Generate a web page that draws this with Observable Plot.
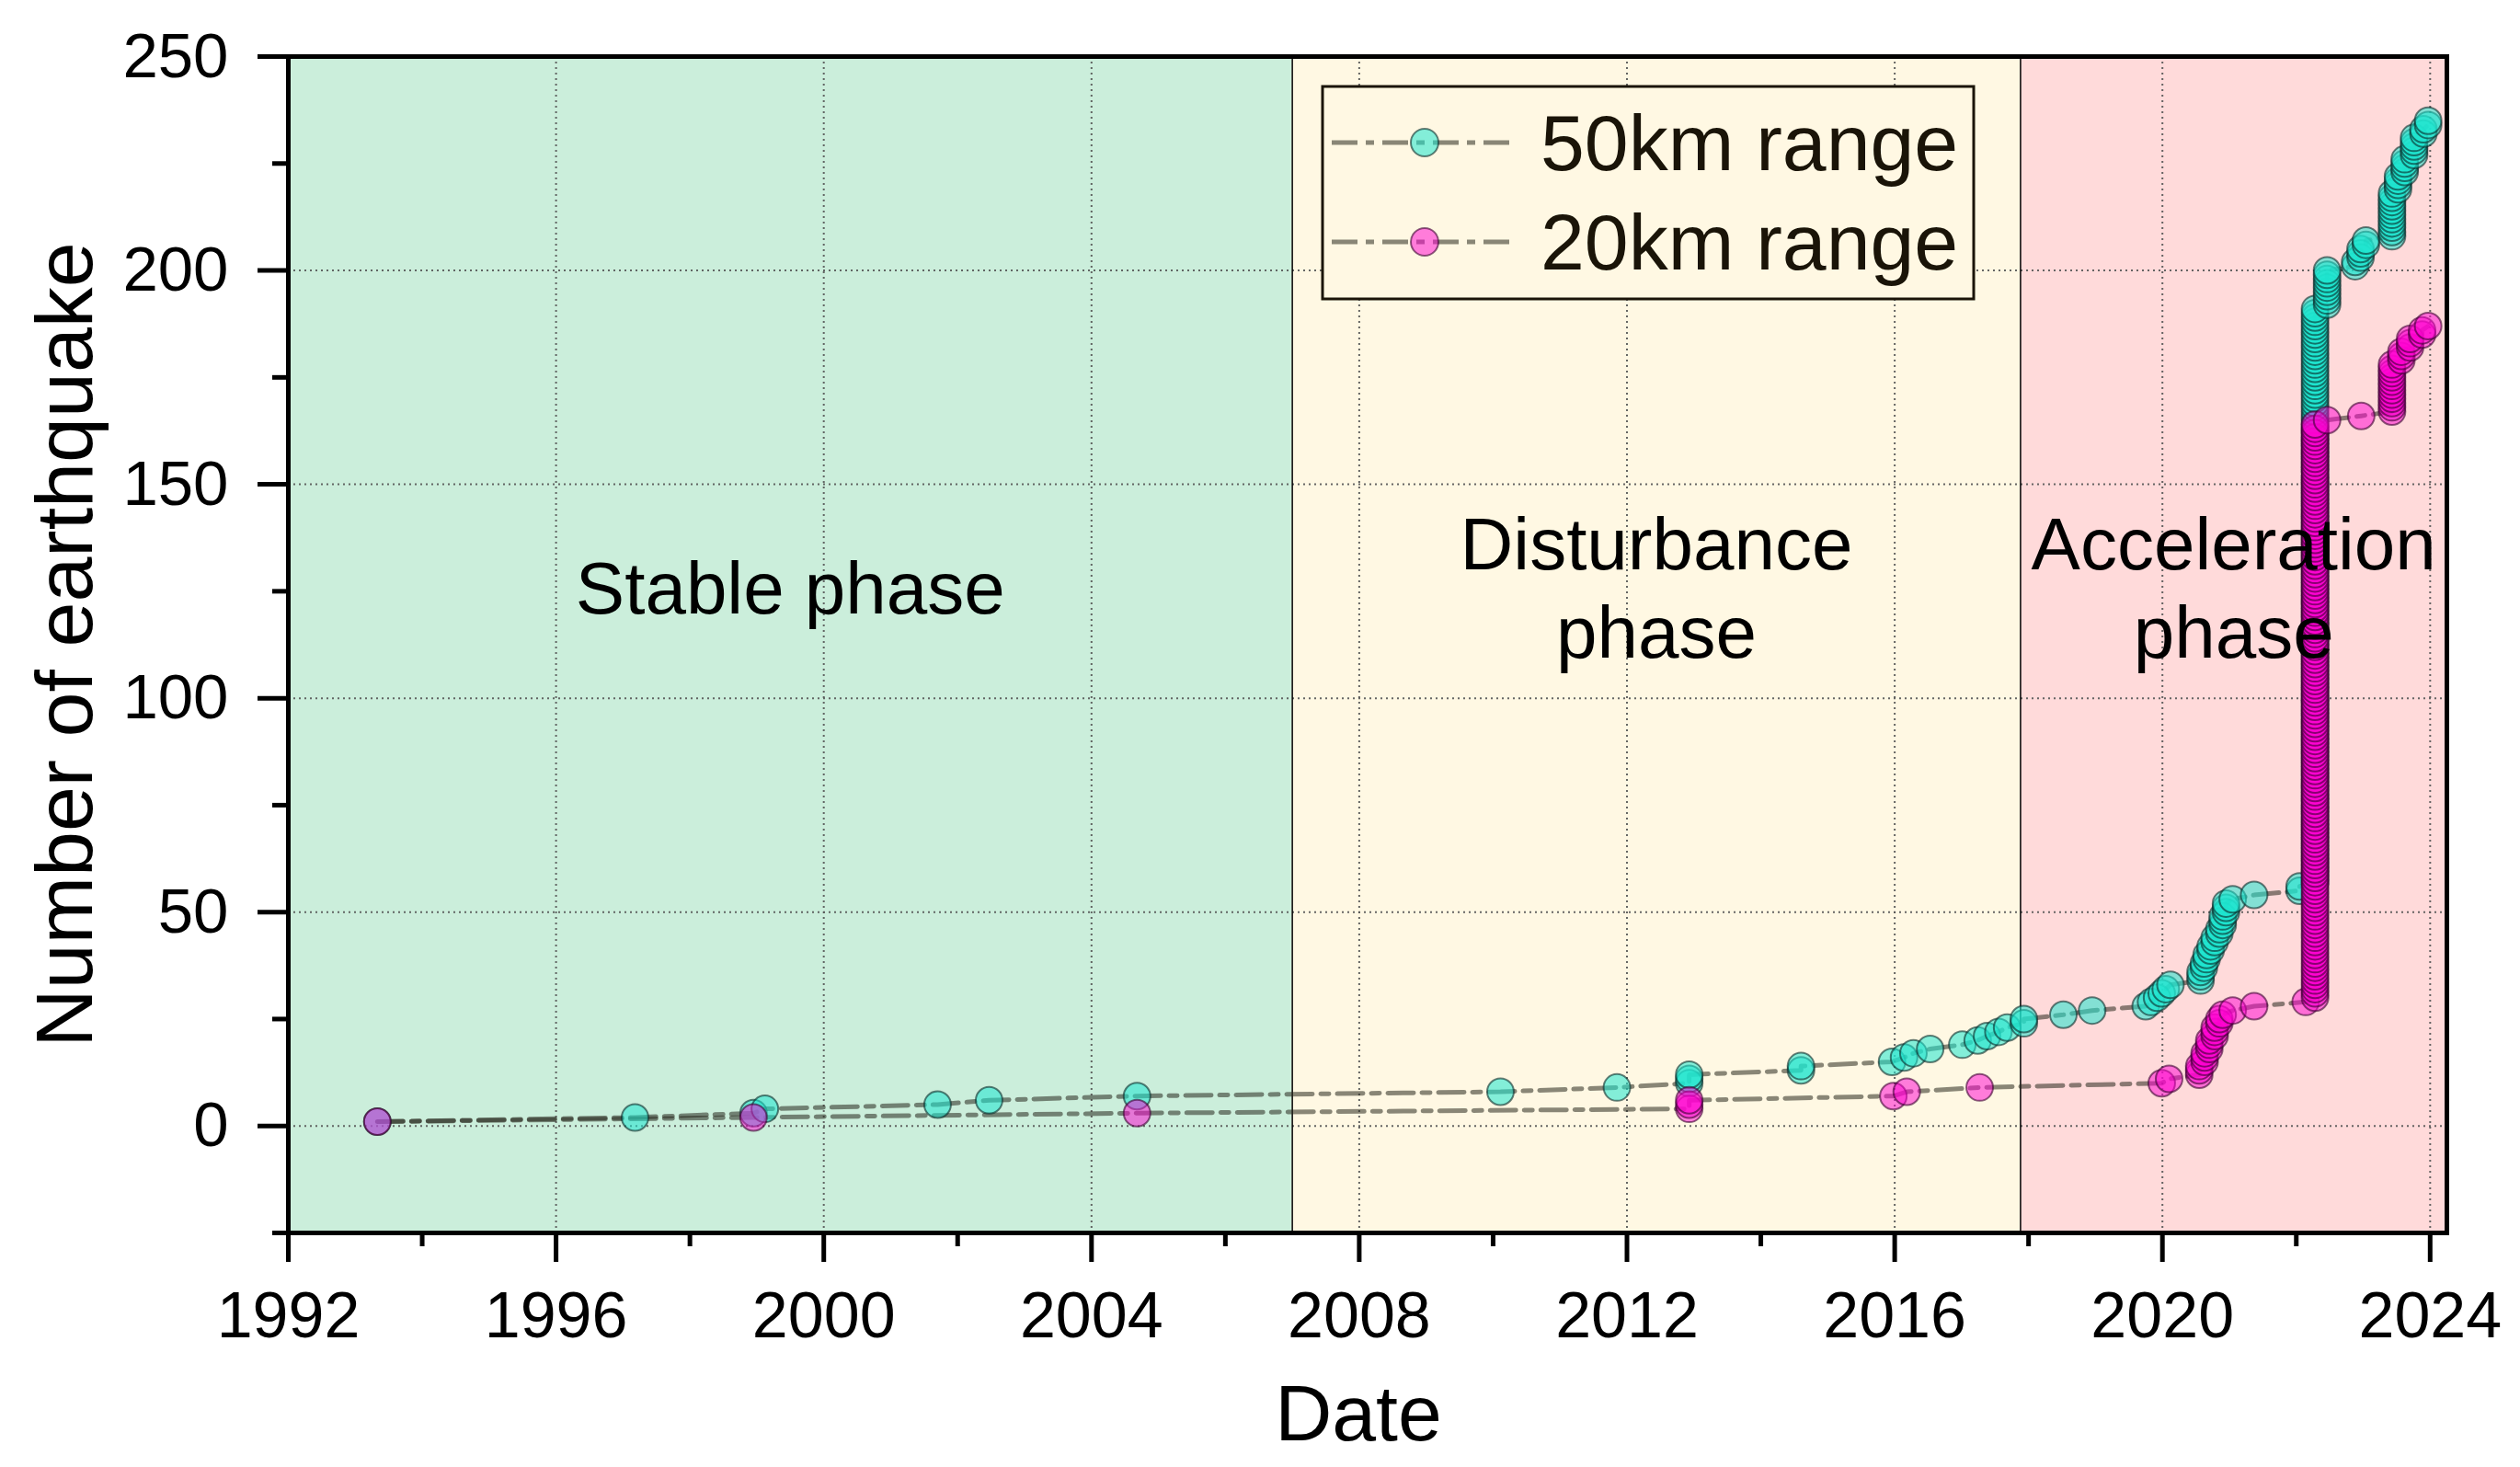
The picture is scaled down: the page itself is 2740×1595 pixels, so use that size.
<!DOCTYPE html>
<html>
<head>
<meta charset="utf-8">
<script src="https://cdn.jsdelivr.net/npm/d3@7"></script>
<script src="https://cdn.jsdelivr.net/npm/@observablehq/plot@0.6"></script>
<style>
  body { margin: 0; background: #ffffff; }
  #chart svg { display: block; }
</style>
</head>
<body>
<div id="chart"></div>
<script>
// ---- Data ----
// 50 km range: event dates (decimal years) and number of earthquakes on each date
const dates50 = [1993.33, 1997.18, 1998.95, 1999.12, 2001.70, 2002.47, 2004.68, 2010.11, 2011.85, 2012.93,
  2014.60, 2015.96, 2016.14, 2016.28, 2016.53, 2017.01, 2017.24, 2017.38, 2017.55, 2017.68,
  2017.93, 2018.52, 2018.95, 2019.75, 2019.83, 2019.92, 2019.99, 2020.05, 2020.12, 2020.57,
  2020.62, 2020.66, 2020.72, 2020.78, 2020.85, 2020.90, 2020.95, 2021.05, 2021.37, 2022.05,
  2022.28, 2022.46, 2022.88, 2022.96, 2023.04, 2023.43, 2023.52, 2023.62, 2023.76, 2023.90, 2023.97];
const events50 = [1, 1, 1, 1, 1, 1, 1, 1, 1, 3,
  2, 1, 1, 1, 1, 1, 1, 1, 1, 1,
  2, 1, 1, 1, 1, 1, 1, 1, 1, 3,
  2, 2, 2, 2, 2, 3, 3, 1, 1, 2,
  135, 9, 2, 3, 2, 11, 4, 4, 5, 2, 2];

// 20 km range
const dates20 = [1993.33, 1998.95, 2004.68, 2012.93, 2015.98, 2016.18, 2017.27, 2019.99, 2020.10, 2020.55,
  2020.63, 2020.70, 2020.78, 2020.85, 2020.90, 2021.05, 2021.37, 2022.14, 2022.28, 2022.46,
  2022.97, 2023.43, 2023.57, 2023.70, 2023.88, 2023.97];
const events20 = [1, 1, 1, 3, 1, 1, 1, 1, 1, 3,
  3, 3, 3, 2, 1, 1, 1, 1, 135, 1,
  1, 12, 3, 3, 2, 1];

const seriesNames = ["50km range", "20km range"];

// Phases
const phaseNames = ["Stable phase", "Disturbance\nphase", "Acceleration\nphase"];
const phaseStart = [1992, 2007.0, 2017.88];
const phaseEnd = [2007.0, 2017.88, 2024.25];
const phaseLabelY = 126.5;

// Axes
const xDomain = [1992, 2024.25];
const yDomain = [-25, 250];
const xTicks = [1992, 1996, 2000, 2004, 2008, 2012, 2016, 2020, 2024];
const xMinorTicks = [1994, 1998, 2002, 2006, 2010, 2014, 2018, 2022];
const yTicks = [0, 50, 100, 150, 200, 250];
const yMinorTicks = [-25, 25, 75, 125, 175, 225];
const xLabel = "Date";
const yLabel = "Number of earthquake";

// ---- Styles ----
const phaseColors = ["#cbeedb", "#fff8e3", "#ffdada"];
const fill50 = "#1ee6cf";
const fill20 = "#ff00d2";
const lineColor = "#28281e";
const dash = "28,9,9,9";
const font = "'Liberation Sans', Arial, Helvetica, sans-serif";
const dotR = 14.5;

// cumulative count per event
function expand(dates, events, series) {
  const rows = [];
  let total = 0;
  dates.forEach((d, i) => {
    for (let k = 0; k < events[i]; k++) {
      total += 1;
      rows.push({date: d, count: total, series});
    }
  });
  return rows;
}
const rows50 = expand(dates50, events50, seriesNames[0]);
const rows20 = expand(dates20, events20, seriesNames[1]);
const phases = phaseNames.map((name, i) => ({name, start: phaseStart[i], end: phaseEnd[i], color: phaseColors[i]}));

const W = 2740, H = 1595;
const mL = 313, mR = 80, mT = 61, mB = 255;

const plot = Plot.plot({
  width: W,
  height: H,
  marginLeft: mL,
  marginRight: mR,
  marginTop: mT,
  marginBottom: mB,
  style: {fontFamily: font, background: "#ffffff", color: "#000"},
  x: {type: "linear", domain: xDomain},
  y: {domain: yDomain},
  color: {type: "identity"},
  marks: [
    Plot.rect(phases, {x1: "start", x2: "end", y1: yDomain[0], y2: yDomain[1], fill: "color"}),
    Plot.gridX(xTicks.filter(t => t > xDomain[0]), {stroke: "#555", strokeOpacity: 0.9, strokeWidth: 2, strokeDasharray: "2,4"}),
    Plot.gridY(yTicks.filter(t => t < yDomain[1]), {stroke: "#555", strokeOpacity: 0.9, strokeWidth: 2, strokeDasharray: "2,4"}),
    Plot.ruleX(phaseStart.slice(1), {stroke: "#000", strokeWidth: 1.5}),
    Plot.line(rows50, {x: "date", y: "count", stroke: lineColor, strokeOpacity: 0.55, strokeWidth: 5, strokeDasharray: dash}),
    Plot.line(rows20, {x: "date", y: "count", stroke: lineColor, strokeOpacity: 0.55, strokeWidth: 5, strokeDasharray: dash}),
    Plot.dot(rows50, {x: "date", y: "count", r: dotR, fill: fill50, fillOpacity: 0.55, stroke: "#0a2a28", strokeOpacity: 0.6, strokeWidth: 2}),
    Plot.dot(rows20, {x: "date", y: "count", r: dotR, fill: fill20, fillOpacity: 0.5, stroke: "#3a0030", strokeOpacity: 0.6, strokeWidth: 2}),
    Plot.text(phases, {x: d => (d.start + d.end) / 2, y: phaseLabelY, text: "name", fontSize: 80, lineHeight: 1.2, lineAnchor: "middle", textAnchor: "middle", fill: "#000"}),
    Plot.frame({stroke: "#000", strokeWidth: 5}),
    Plot.axisX(xTicks, {anchor: "bottom", tickSize: 32, tickPadding: 32, tickFormat: d => String(d), fontSize: 70, strokeWidth: 5, label: null}),
    Plot.axisX(xMinorTicks, {anchor: "bottom", tickSize: 15, tickFormat: () => "", strokeWidth: 5, label: null}),
    Plot.axisY(yTicks, {anchor: "left", tickSize: 33, tickPadding: 32, tickFormat: d => String(d), fontSize: 69, strokeWidth: 5, label: null}),
    Plot.axisY(yMinorTicks, {anchor: "left", tickSize: 17, tickFormat: () => "", strokeWidth: 5, label: null}),
    Plot.text([xLabel], {frameAnchor: "bottom", dx: -10, dy: 225, lineAnchor: "bottom", textAnchor: "middle", fontSize: 86, fill: "#000"}),
    Plot.text([yLabel], {frameAnchor: "left", dx: -214, rotate: -90, lineAnchor: "bottom", textAnchor: "middle", fontSize: 88, fill: "#000"})
  ]
});

document.getElementById("chart").appendChild(plot);

// ---- Legend (inside the plot area, top middle) ----
const svg = d3.select(plot);
const lg = svg.append("g").attr("class", "legend");
const box = {x: 1438, y: 94, w: 708, h: 231};
lg.append("rect").attr("x", box.x).attr("y", box.y).attr("width", box.w).attr("height", box.h)
  .attr("fill", phaseColors[1]).attr("stroke", "#1a1408").attr("stroke-width", 3);
const legendFills = [[fill50, 0.55, "#0a2a28"], [fill20, 0.5, "#3a0030"]];
seriesNames.forEach((name, i) => {
  const cy = box.y + 61 + i * 108;
  lg.append("line").attr("x1", box.x + 10).attr("x2", box.x + 206).attr("y1", cy).attr("y2", cy)
    .attr("stroke", lineColor).attr("stroke-opacity", 0.55).attr("stroke-width", 5).attr("stroke-dasharray", dash);
  lg.append("circle").attr("cx", box.x + 111).attr("cy", cy).attr("r", 15)
    .attr("fill", legendFills[i][0]).attr("fill-opacity", legendFills[i][1])
    .attr("stroke", legendFills[i][2]).attr("stroke-opacity", 0.6).attr("stroke-width", 2);
  lg.append("text").attr("x", box.x + 237).attr("y", cy + 30)
    .attr("text-anchor", "start")
    .attr("font-family", font).attr("font-size", 86).attr("fill", "#1a1408").text(name);
});
</script>
</body>
</html>
